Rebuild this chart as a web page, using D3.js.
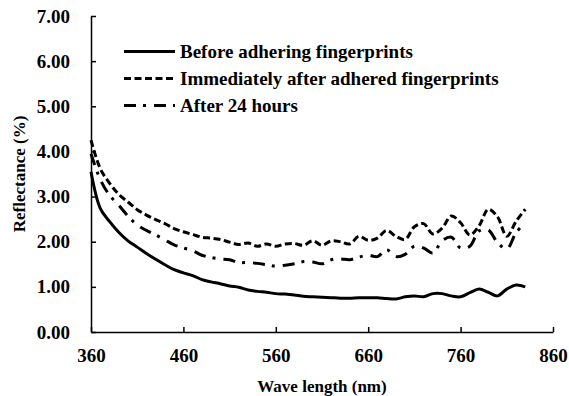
<!DOCTYPE html>
<html>
<head>
    <meta charset="utf-8">
    <title>reflectance</title>
    <style>
        body { margin: 0; background: #fff; }
        text { font-family: "Liberation Serif", "Times New Roman", serif; font-weight: bold; fill: #000; }
        .axis path, .axis line { stroke: #000; stroke-width: 1.5px; }
        .axis text { font-size: 19px; }
        .line { fill: none; stroke: #000; stroke-width: 3px; }
    </style>
</head>
<body>
<script src="https://cdn.jsdelivr.net/npm/d3@7"></script>
<script>
    // wavelength samples (nm)
    var wavelength = [360, 370, 380, 390, 400, 410, 420, 430, 440, 450,
        460, 470, 480, 490, 500, 510, 520, 530, 540, 550,
        560, 570, 580, 590, 600, 610, 620, 630, 640, 650,
        660, 670, 680, 690, 700, 710, 720, 730, 740, 750,
        760, 770, 780, 790, 800, 810, 820, 830];

    // reflectance (%)
    var beforeAdhering = [3.55, 2.74, 2.45, 2.21, 2.02, 1.88, 1.74, 1.61, 1.49, 1.38,
        1.31, 1.25, 1.16, 1.11, 1.07, 1.02, 0.99, 0.93, 0.90, 0.88,
        0.85, 0.84, 0.82, 0.79, 0.78, 0.77, 0.76, 0.75, 0.75, 0.76,
        0.76, 0.76, 0.74, 0.73, 0.78, 0.80, 0.78, 0.85, 0.85, 0.80,
        0.78, 0.87, 0.95, 0.88, 0.80, 0.95, 1.04, 1.00];

    var immediatelyAfter = [4.25, 3.62, 3.30, 3.05, 2.88, 2.71, 2.59, 2.49, 2.40, 2.29,
        2.22, 2.16, 2.10, 2.08, 2.05, 1.99, 1.94, 1.97, 1.90, 1.95,
        1.90, 1.95, 1.96, 1.92, 2.02, 1.92, 2.02, 2.00, 1.95, 2.12,
        2.03, 2.08, 2.25, 2.12, 2.05, 2.33, 2.40, 2.17, 2.30, 2.57,
        2.42, 2.15, 2.35, 2.72, 2.55, 2.12, 2.45, 2.72];

    var after24Hours = [3.95, 3.38, 3.03, 2.81, 2.57, 2.37, 2.25, 2.15, 2.04, 1.93,
        1.86, 1.80, 1.70, 1.65, 1.62, 1.60, 1.54, 1.54, 1.52, 1.49,
        1.46, 1.48, 1.51, 1.56, 1.55, 1.51, 1.60, 1.62, 1.60, 1.66,
        1.70, 1.67, 1.82, 1.67, 1.72, 1.90, 1.86, 1.75, 2.02, 2.10,
        1.86, 1.90, 2.24, 2.26, 1.98, 1.84, 2.20, 2.42];

    var seriesNames = ["Before adhering fingerprints",
        "Immediately after adhered fingerprints",
        "After 24 hours"];
    var xTicks = [360, 460, 560, 660, 760, 860];
    var yTicks = [0, 1, 2, 3, 4, 5, 6, 7];

    var width = 569, height = 396;
    var margin = {top: 16, right: 16, bottom: 64, left: 91};

    var svg = d3.select("body").append("svg")
        .attr("width", width)
        .attr("height", height);

    var x = d3.scaleLinear().domain([360, 860]).range([margin.left, width - margin.right]);
    var y = d3.scaleLinear().domain([0, 7]).range([height - margin.bottom, margin.top]);

    // axes, ticks point inward
    svg.append("g")
        .attr("class", "axis")
        .attr("transform", "translate(0," + y(0) + ")")
        .call(d3.axisBottom(x).tickValues(xTicks).tickSizeInner(-5).tickSizeOuter(0)
            .tickPadding(17).tickFormat(d3.format("d")));

    svg.append("g")
        .attr("class", "axis")
        .attr("transform", "translate(" + x(360) + ",0)")
        .call(d3.axisLeft(y).tickValues(yTicks).tickSizeInner(-5).tickSizeOuter(0)
            .tickPadding(21).tickFormat(d3.format(".2f")));

    svg.selectAll(".axis text").attr("font-family", null);

    // axis titles
    svg.append("text")
        .attr("x", (x(360) + x(860)) / 2)
        .attr("y", 386)
        .attr("text-anchor", "middle")
        .attr("dominant-baseline", "central")
        .style("font-size", "17px")
        .text("Wave length (nm)");

    svg.append("text")
        .attr("transform", "translate(19," + (y(3.5)) + ") rotate(-90)")
        .attr("text-anchor", "middle")
        .attr("dominant-baseline", "central")
        .style("font-size", "17px")
        .text("Reflectance (%)");

    var dashes = [null, "7,3.5", "12,7,3,8"];
    var allSeries = [beforeAdhering, immediatelyAfter, after24Hours];

    var line = d3.line()
        .x(function (d, i) { return x(wavelength[i]); })
        .y(function (d) { return y(d); })
        .curve(d3.curveCatmullRom);

    svg.selectAll("path.line")
        .data(allSeries)
        .enter().append("path")
        .attr("class", "line")
        .attr("d", line)
        .style("stroke-dasharray", function (d, i) { return dashes[i]; });

    // legend
    var legend = svg.selectAll("g.legend")
        .data(seriesNames)
        .enter().append("g")
        .attr("class", "legend")
        .attr("transform", function (d, i) { return "translate(124," + (51.5 + i * 27) + ")"; });

    legend.append("line")
        .attr("x1", 0).attr("x2", 51)
        .attr("y1", 0).attr("y2", 0)
        .attr("stroke", "#000")
        .attr("stroke-width", 3)
        .style("stroke-dasharray", function (d, i) { return dashes[i]; });

    legend.append("text")
        .attr("x", 56)
        .attr("dominant-baseline", "central")
        .style("font-size", "19px")
        .text(function (d) { return d; });
</script>
</body>
</html>
